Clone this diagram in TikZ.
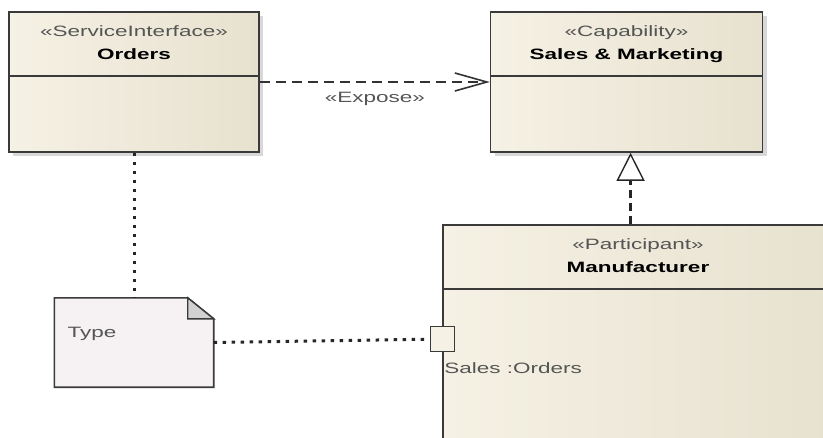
\documentclass[tikz,border=0pt]{standalone}
\usepackage{fontspec}
\newfontfamily\umlfont[FakeStretch=1.5]{Liberation Sans}
\usetikzlibrary{positioning,arrows.meta,shadows}
\definecolor{boxleft}{HTML}{F5F1E4}
\definecolor{boxright}{HTML}{E7E1CF}
\definecolor{notefill}{HTML}{F6F1F3}
\definecolor{foldfill}{HTML}{D2D2D2}
\definecolor{linegray}{HTML}{3A3A3A}
\definecolor{stereogray}{HTML}{555555}

\begin{document}
\begin{tikzpicture}[x=1pt, y=1pt,
classbox/.style={rectangle, draw=linegray, line width=1.6pt, left color=boxleft, right color=boxright, drop shadow={shadow xshift=4pt, shadow yshift=-4pt, fill=black!30}},
headtext/.style={align=center, inner sep=0pt, font=\umlfont\fontsize{15}{23}\selectfont},
plaintext/.style={inner sep=0pt, text=stereogray, font=\umlfont\fontsize{15}{18}\selectfont},
portbox/.style={rectangle, draw=linegray, line width=1.4pt, fill=boxleft, minimum width=24pt, minimum height=25pt},
dotline/.style={line width=3pt, draw=black!85, dash pattern=on 3.5pt off 5.5pt},
]
\useasboundingbox (0,0) rectangle (823,-437);
\clip (0,0) rectangle (823,-437);

%Nodes
\node[classbox, minimum width=250pt, minimum height=140pt] (orders) at (134,-82) {};
\node[classbox, minimum width=272pt, minimum height=140pt] (capability) [right=230pt of orders] {};
\node[classbox, minimum width=390pt, minimum height=220pt] (manufacturer) at (638,-335) {};
\node[minimum width=159pt, minimum height=89pt, inner sep=0pt] (type) [below=145pt of orders] {};
\node[portbox] (port) at ([yshift=-115pt]manufacturer.north west) {};

%Headers
\node[headtext] (ordershead) [below=14pt of orders.north] {\textcolor{stereogray}{«ServiceInterface»}\\\textbf{Orders}};
\node[headtext] (capabilityhead) [below=14pt of capability.north] {\textcolor{stereogray}{«Capability»}\\\textbf{Sales \& Marketing}};
\node[headtext] (manufacturerhead) [below=14pt of manufacturer.north] {\textcolor{stereogray}{«Participant»}\\\textbf{Manufacturer}};
\draw[draw=linegray, line width=1.6pt] ([yshift=-65pt]orders.north west) -- ([yshift=-65pt]orders.north east);
\draw[draw=linegray, line width=1.6pt] ([yshift=-65pt]capability.north west) -- ([yshift=-65pt]capability.north east);
\draw[draw=linegray, line width=1.6pt] ([yshift=-65pt]manufacturer.north west) -- ([yshift=-65pt]manufacturer.north east);

%Note
\draw[draw=linegray, line width=1.6pt, fill=notefill] (type.south west) -- (type.north west) -- ([xshift=-26pt]type.north east) -- ([yshift=-21pt]type.north east) -- (type.south east) -- cycle;
\draw[draw=linegray, line width=1.4pt, fill=foldfill] ([xshift=-26pt]type.north east) -- ([xshift=-26pt,yshift=-21pt]type.north east) -- ([yshift=-21pt]type.north east) -- cycle;
\node[plaintext, anchor=west] (typetext) at ([xshift=13pt,yshift=-36pt]type.north west) {Type};
\node[plaintext, anchor=north west] (portlabel) at ([xshift=2pt,yshift=-10pt]port.south -| manufacturer.west) {Sales :Orders};

%Lines
\draw[line width=1.6pt, draw=black!80, dash pattern=on 10pt off 6pt, -{Straight Barb[length=32pt, width=18pt, line width=1.6pt]}] (orders.east) -- node[plaintext, below=9pt]{«Expose»} (capability.west);
\draw[line width=2.5pt, draw=black!85, dash pattern=on 8pt off 5pt, -{Triangle[open, fill=white, length=28pt, width=28pt, line width=1.4pt]}] ([xshift=4pt]capability.south |- manufacturer.north) -- ([xshift=4pt]capability.south);
\draw[dotline] (orders.south) -- (type.north);
\draw[dotline] (type.east) -- (port.west);
\end{tikzpicture}
\end{document}
